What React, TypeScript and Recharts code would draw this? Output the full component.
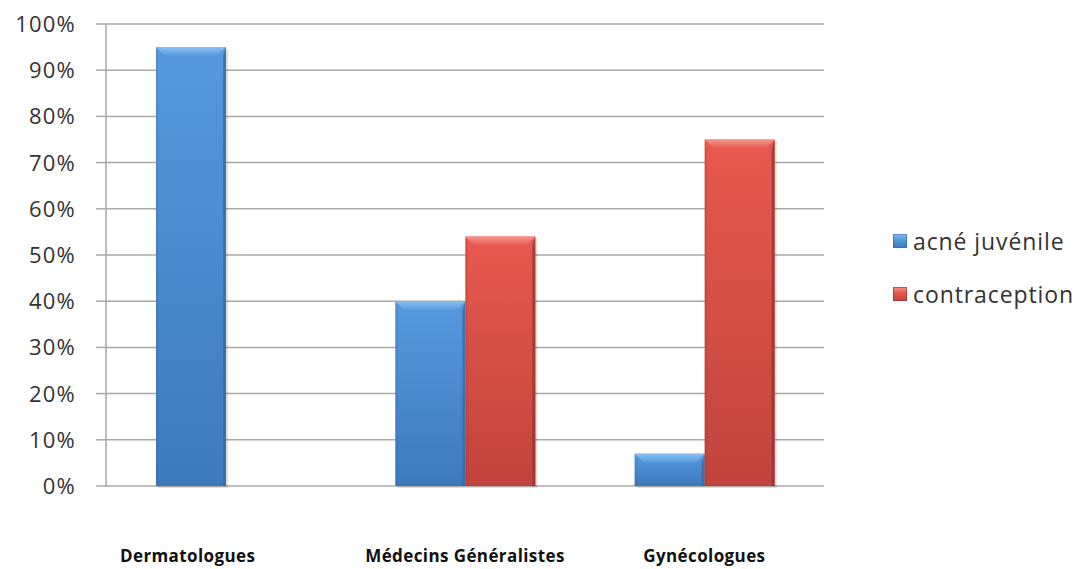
import React from 'react';
import { BarChart, Bar, XAxis, YAxis, CartesianGrid } from 'recharts';

const categories = ['Dermatologues', 'Médecins Généralistes', 'Gynécologues'];
const acneJuvenile = [0.95, 0.4, 0.07];
const contraception = [0, 0.54, 0.75];
const yTicks = [0, 0.1, 0.2, 0.3, 0.4, 0.5, 0.6, 0.7, 0.8, 0.9, 1];
const seriesNames = ['acné juvénile', 'contraception'];

const data = categories.map((name, i) => ({
  name,
  acne: acneJuvenile[i],
  contra: contraception[i],
}));

const FONT = '"Open Sans", "Noto Sans", sans-serif';

type Palette = { top: string; bottom: string; bevel: string; edge: string; id: string };
const BLUE: Palette = { top: '#5699de', bottom: '#3e79bc', bevel: '#8cc0f0', edge: '#35689f', id: 'blue' };
const RED: Palette = { top: '#e8594f', bottom: '#c0443c', bevel: '#f4968d', edge: '#963029', id: 'red' };

// Bevelled bar with a lighter chamfer along the top edge
const makeShape = (p: Palette) => (props: any) => {
  const { x, y, width, height } = props;
  if (!height || height <= 0) return null;
  const b = Math.min(9, height / 2, width / 4);
  return (
    <g>
      <rect x={x + 2} y={y + 2} width={width} height={height} fill="rgba(0,0,0,0.12)" />
      <rect x={x} y={y} width={width} height={height} fill={`url(#body-${p.id})`} />
      <polygon
        points={`${x},${y} ${x + width},${y} ${x + width - b},${y + b} ${x + b},${y + b}`}
        fill={`url(#bevel-${p.id})`}
      />
      <polygon
        points={`${x + width},${y} ${x + width},${y + height} ${x + width - 3},${y + height} ${x + width - 3},${y + b}`}
        fill={p.edge}
        opacity={0.7}
      />
      <polygon
        points={`${x},${y} ${x + 2},${y + b} ${x + 2},${y + height} ${x},${y + height}`}
        fill={p.edge}
        opacity={0.25}
      />
    </g>
  );
};

const Gradients = () => (
  <defs>
    {[BLUE, RED].map((p) => (
      <React.Fragment key={p.id}>
        <linearGradient id={`body-${p.id}`} x1="0" y1="0" x2="0" y2="1">
          <stop offset="0%" stopColor={p.top} />
          <stop offset="100%" stopColor={p.bottom} />
        </linearGradient>
        <linearGradient id={`bevel-${p.id}`} x1="0" y1="0" x2="0" y2="1">
          <stop offset="0%" stopColor={p.bevel} />
          <stop offset="100%" stopColor={p.top} />
        </linearGradient>
      </React.Fragment>
    ))}
  </defs>
);

const CategoryTick = (props: any) => {
  const { x, y, payload } = props;
  const shift = payload.index === 0 ? -38 : 0;
  return (
    <text
      x={x + shift}
      y={y + 68}
      textAnchor="middle"
      fontFamily={FONT}
      fontWeight={700}
      fontSize={17}
      letterSpacing={0.4}
      fill="#111"
    >
      {payload.value}
    </text>
  );
};

const PercentTick = (props: any) => {
  const { x, y, payload } = props;
  return (
    <text
      x={x}
      y={y}
      dy={8}
      textAnchor="end"
      fontFamily={FONT}
      fontSize={22}
      letterSpacing={1.2}
      fill="#333"
    >
      {`${Math.round(payload.value * 100)}%`}
    </text>
  );
};

const LegendSwatch = ({ p }: { p: Palette }) => (
  <svg width={14} height={14} style={{ marginRight: 6, flexShrink: 0 }}>
    <defs>
      <linearGradient id={`sw-${p.id}`} x1="0" y1="0" x2="0" y2="1">
        <stop offset="0%" stopColor={p.bevel} />
        <stop offset="40%" stopColor={p.top} />
        <stop offset="100%" stopColor={p.bottom} />
      </linearGradient>
    </defs>
    <rect x={0} y={0} width={14} height={14} fill={`url(#sw-${p.id})`} />
    <rect x={0.5} y={0.5} width={13} height={13} fill="none" stroke={p.edge} strokeWidth={1} opacity={0.6} />
  </svg>
);

const ChartLegend = () => (
  <div
    style={{
      position: 'absolute',
      left: 893,
      top: 226,
      fontFamily: FONT,
      fontSize: 23,
      letterSpacing: 0.9,
      color: '#333',
    }}
  >
    {seriesNames.map((n, i) => (
      <div
        key={n}
        style={{ display: 'flex', alignItems: 'center', height: 30, marginBottom: i === 0 ? 23 : 0, whiteSpace: 'nowrap' }}
      >
        <LegendSwatch p={i === 0 ? BLUE : RED} />
        <span>{n}</span>
      </div>
    ))}
  </div>
);

export default function App() {
  return (
    <div style={{ position: 'absolute', left: 0, top: 0, width: 1091, height: 569, background: '#fff' }}>
      <BarChart
        width={1091}
        height={569}
        data={data}
        margin={{ top: 24, right: 267, bottom: 0, left: 0 }}
        barSize={70}
        barGap={0}
      >
        <Gradients />
        <CartesianGrid vertical={false} stroke="#a9a9a9" strokeWidth={1.5} />
        <XAxis
          dataKey="name"
          height={83}
          axisLine={false}
          tickLine={false}
          tick={<CategoryTick />}
          interval={0}
        />
        <YAxis
          width={106}
          domain={[0, 1]}
          ticks={yTicks}
          interval={0}
          axisLine={{ stroke: '#a9a9a9', strokeWidth: 1.5 }}
          tickLine={{ stroke: '#a9a9a9', strokeWidth: 1.5 }}
          tickSize={10}
          tickMargin={20}
          tick={<PercentTick />}
        />
        <Bar dataKey="acne" name={seriesNames[0]} shape={makeShape(BLUE)} isAnimationActive={false} />
        <Bar dataKey="contra" name={seriesNames[1]} shape={makeShape(RED)} isAnimationActive={false} />
      </BarChart>
      <ChartLegend />
    </div>
  );
}
